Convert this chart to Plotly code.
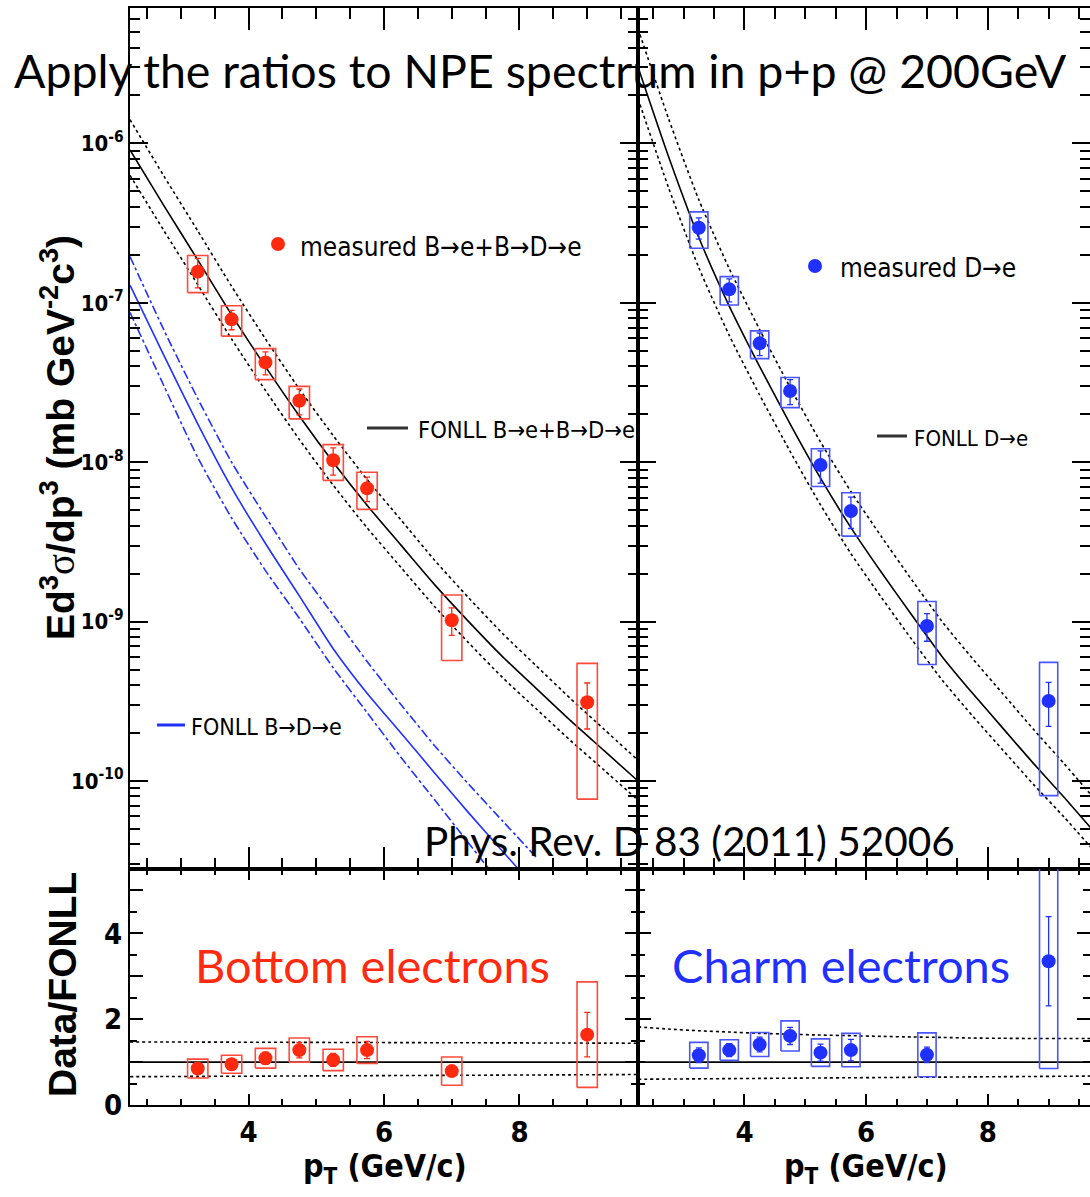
import plotly.graph_objects as go

W, H = 1090, 1197

# ---------------- data ----------------
pt = [3.25, 3.75, 4.25, 4.75, 5.25, 5.75, 7.0, 9.0]

# bottom electrons (B->e + B->D->e), left panel
b_val = [1.57e-7, 7.88e-8, 4.23e-8, 2.43e-8, 1.03e-8, 6.86e-9, 1.02e-9, 3.12e-10]
b_stat = [0.33e-7, 1.1e-8, 0.7e-8, 0.45e-8, 0.2e-8, 1.2e-9, 0.2e-9, 1.0e-10]
b_sys = [0.41e-7, 1.7e-8, 0.93e-8, 0.56e-8, 0.26e-8, 1.8e-9, 0.45e-9, 2.35e-10]

# charm electrons (D->e), right panel
c_val = [2.96e-7, 1.215e-7, 5.57e-8, 2.80e-8, 9.6e-9, 4.94e-9, 9.38e-10, 3.18e-10]
c_stat = [0.45e-7, 0.2e-7, 0.9e-8, 0.5e-8, 2.2e-9, 1.1e-9, 1.85e-10, 0.98e-10]
c_sys = [0.76e-7, 0.245e-7, 1.1e-8, 0.6e-8, 2.55e-9, 1.5e-9, 4.0e-10, 2.37e-10]

# Data / FONLL
b_ratio = [0.85, 0.95, 1.09, 1.28, 1.05, 1.28, 0.79, 1.64]
b_ratio_stat = [0.13, 0.12, 0.14, 0.18, 0.15, 0.20, 0.10, 0.52]
b_ratio_sys = [0.22, 0.21, 0.23, 0.28, 0.25, 0.31, 0.33, 1.23]

c_ratio = [1.16, 1.28, 1.41, 1.61, 1.22, 1.28, 1.17, 3.35]
c_ratio_stat = [0.17, 0.15, 0.17, 0.20, 0.20, 0.25, 0.18, 1.04]
c_ratio_sys = [0.30, 0.24, 0.28, 0.35, 0.32, 0.39, 0.51, 2.50]

# FONLL curves
fonll_pt = [2.25, 2.75, 3.25, 3.75, 4.25, 4.75, 5.25, 5.75, 6.25, 6.75, 7.25, 7.75, 8.25, 8.75, 9.25, 9.75]

fonll_b = [9.12e-7, 4.07e-7, 1.86e-7, 8.41e-8, 3.98e-8, 1.95e-8, 1.00e-8, 5.37e-9,
           3.02e-9, 1.70e-9, 1.00e-9, 6.03e-10, 3.80e-10, 2.40e-10, 1.55e-10, 1.00e-10]
fonll_b_hi = [1.41e-6, 6.25e-7, 2.83e-7, 1.27e-7, 5.94e-8, 2.88e-8, 1.47e-8, 7.80e-9,
              4.35e-9, 2.42e-9, 1.41e-9, 8.43e-10, 5.27e-10, 3.30e-10, 2.11e-10, 1.35e-10]
fonll_b_lo = [6.31e-7, 2.84e-7, 1.30e-7, 5.93e-8, 2.82e-8, 1.39e-8, 7.18e-9, 3.88e-9,
              2.19e-9, 1.24e-9, 7.36e-10, 4.46e-10, 2.83e-10, 1.80e-10, 1.17e-10, 7.59e-11]

fonll_bd_pt = [2.25, 2.75, 3.25, 3.75, 4.25, 4.75, 5.25, 5.75, 6.25, 6.75, 7.25, 7.75, 8.25]
fonll_bd = [1.29e-7, 4.68e-8, 1.74e-8, 6.92e-9, 3.09e-9, 1.45e-9, 6.76e-10, 3.55e-10,
            2.00e-10, 1.12e-10, 6.31e-11, 3.63e-11, 2.09e-11]
fonll_bd_hi = [1.95e-7, 6.76e-8, 2.51e-8, 1.00e-8, 4.57e-9, 2.14e-9, 1.10e-9, 5.62e-10,
               3.02e-10, 1.66e-10, 9.55e-11, 5.62e-11, 3.31e-11]
fonll_bd_lo = [8.71e-8, 3.02e-8, 1.07e-8, 4.47e-9, 2.09e-9, 1.05e-9, 5.13e-10, 2.69e-10,
               1.41e-10, 7.59e-11, 4.07e-11, 2.19e-11, 1.17e-11]

fonll_d = [3.02e-6, 8.32e-7, 2.57e-7, 9.55e-8, 3.98e-8, 1.74e-8, 7.94e-9, 3.89e-9,
           2.04e-9, 1.10e-9, 6.03e-10, 3.55e-10, 2.14e-10, 1.29e-10, 7.94e-11, 4.79e-11]
fonll_d_hi = [5.25e-6, 1.44e-6, 4.43e-7, 1.64e-7, 6.79e-8, 2.95e-8, 1.34e-8, 6.55e-9,
              3.42e-9, 1.83e-9, 1.00e-9, 5.86e-10, 3.52e-10, 2.11e-10, 1.29e-10, 7.76e-11]
fonll_d_lo = [1.91e-6, 5.31e-7, 1.66e-7, 6.25e-8, 2.64e-8, 1.17e-8, 5.40e-9, 2.67e-9,
              1.42e-9, 7.73e-10, 4.30e-10, 2.56e-10, 1.56e-10, 9.53e-11, 5.96e-11, 3.63e-11]

ratio_one = [1.0, 1.0, 1.0, 1.0, 1.0, 1.0, 1.0, 1.0, 1.0, 1.0, 1.0, 1.0, 1.0, 1.0, 1.0, 1.0]
b_ratio_hi = [1.47, 1.468, 1.466, 1.464, 1.462, 1.46, 1.458, 1.456, 1.454, 1.452, 1.45, 1.448, 1.446, 1.444, 1.442, 1.44]
b_ratio_lo = [0.66, 0.663, 0.667, 0.67, 0.673, 0.677, 0.68, 0.683, 0.687, 0.69, 0.693, 0.697, 0.70, 0.703, 0.707, 0.71]
c_ratio_hi = [1.82, 1.77, 1.73, 1.70, 1.67, 1.65, 1.63, 1.615, 1.60, 1.585, 1.575, 1.56, 1.555, 1.55, 1.55, 1.55]
c_ratio_lo = [0.60, 0.605, 0.61, 0.615, 0.62, 0.625, 0.63, 0.635, 0.64, 0.645, 0.65, 0.655, 0.66, 0.665, 0.67, 0.675]

y_decades = [1e-10, 1e-9, 1e-8, 1e-7, 1e-6]
y_decade_text = ["10<sup>-10</sup>", "10<sup>-9</sup>", "10<sup>-8</sup>", "10<sup>-7</sup>", "10<sup>-6</sup>"]
ratio_ticks = [0, 1, 2, 3, 4, 5]
ratio_ticktext = ["0", "", "2", "", "4", ""]
x_ticks = [4, 6, 8]

# ---------------- styles ----------------
RED = "#ff2a10"
RED_BOX = "#ff4a3a"
BLUE = "#2030ff"
BLUE_BOX = "#4a55ff"
BOX_HW = 0.15
NARROW = "Liberation Sans Narrow, Arial Narrow, DejaVu Sans Condensed, Liberation Sans, Arial, sans-serif"
SANS = "Liberation Sans, Arial, Helvetica, sans-serif"
SLIDE = "Lato, Carlito, Calibri, Open Sans, sans-serif"


def px_x(p):
    return p / W


def px_y(p):
    return 1 - p / H


XL = [px_x(130), px_x(638)]
XR = [px_x(638), 1.0]
YT = [px_y(869), px_y(8.3)]
YB = [px_y(1105), px_y(869)]


def box_path(xs, ys, errs):
    bx, by = [], []
    for x, y, e in zip(xs, ys, errs):
        bx += [x - BOX_HW, x + BOX_HW, x + BOX_HW, x - BOX_HW, x - BOX_HW, None]
        by += [y - e, y - e, y + e, y + e, y - e, None]
    return bx, by


fig = go.Figure()


def line(x, y, xa, ya, color, dash, width=1.6):
    fig.add_trace(go.Scatter(x=x, y=y, xaxis=xa, yaxis=ya, mode="lines",
                             line=dict(color=color, dash=dash, width=width, shape="spline", smoothing=0.6),
                             showlegend=False, hoverinfo="skip"))


def data(x, y, stat, sys, xa, ya, color, boxcolor):
    bx, by = box_path(x, y, sys)
    fig.add_trace(go.Scatter(x=bx, y=by, xaxis=xa, yaxis=ya, mode="lines",
                             line=dict(color=boxcolor, width=1.6), showlegend=False, hoverinfo="skip"))
    fig.add_trace(go.Scatter(x=x, y=y, xaxis=xa, yaxis=ya, mode="markers",
                             marker=dict(color=color, size=14, symbol="circle"),
                             error_y=dict(type="data", array=stat, visible=True, color=color,
                                          thickness=1.3, width=3),
                             showlegend=False))


# top-left
line(fonll_pt, fonll_b_hi, "x", "y", "black", "dot")
line(fonll_pt, fonll_b_lo, "x", "y", "black", "dot")
line(fonll_pt, fonll_b, "x", "y", "black", "solid")
line(fonll_bd_pt, fonll_bd_hi, "x", "y", BLUE, "dashdot")
line(fonll_bd_pt, fonll_bd_lo, "x", "y", BLUE, "dashdot")
line(fonll_bd_pt, fonll_bd, "x", "y", BLUE, "solid")
data(pt, b_val, b_stat, b_sys, "x", "y", RED, RED_BOX)

# top-right
line(fonll_pt, fonll_d_hi, "x2", "y2", "black", "dot")
line(fonll_pt, fonll_d_lo, "x2", "y2", "black", "dot")
line(fonll_pt, fonll_d, "x2", "y2", "black", "solid")
data(pt, c_val, c_stat, c_sys, "x2", "y2", BLUE, BLUE_BOX)

# ratio-left
line(fonll_pt, b_ratio_hi, "x3", "y3", "black", "dot")
line(fonll_pt, b_ratio_lo, "x3", "y3", "black", "dot")
line(fonll_pt, ratio_one, "x3", "y3", "black", "solid")
data(pt, b_ratio, b_ratio_stat, b_ratio_sys, "x3", "y3", RED, RED_BOX)

# ratio-right
line(fonll_pt, c_ratio_hi, "x4", "y4", "black", "dot")
line(fonll_pt, c_ratio_lo, "x4", "y4", "black", "dot")
line(fonll_pt, ratio_one, "x4", "y4", "black", "solid")
data(pt, c_ratio, c_ratio_stat, c_ratio_sys, "x4", "y4", BLUE, BLUE_BOX)

# ---------------- axes ----------------
minor_log = [m * d for d in [1e-11, 1e-10, 1e-9, 1e-8, 1e-7, 1e-6, 1e-5] for m in range(2, 10)]
tickfont = dict(family=NARROW, size=22, color="black", weight="bold")
common = dict(showline=True, linecolor="black", linewidth=2, mirror="ticks", ticks="inside",
              tickcolor="black", tickwidth=1.5, showgrid=False, zeroline=False, automargin=False)

xtop = dict(common, range=[2.25, 9.75], tickvals=x_ticks, ticklen=22, showticklabels=False,
            minor=dict(dtick=0.5, tick0=0, ticks="inside", ticklen=11, tickcolor="black", tickwidth=1.5, showgrid=False))
xbot = dict(common, range=[2.25, 9.75], tickvals=x_ticks, ticklen=11, tickfont=dict(tickfont, size=29),
            minor=dict(dtick=0.5, tick0=0, ticks="inside", ticklen=6, tickcolor="black", tickwidth=1.5, showgrid=False))
ylog = dict(common, type="log", range=[-10.552, -5.152], tickvals=y_decades, ticktext=y_decade_text,
            ticklen=18, tickfont=tickfont,
            minor=dict(tickvals=minor_log, ticks="inside", ticklen=10, tickcolor="black", tickwidth=1.5, showgrid=False))
yrat = dict(common, range=[0, 5.5], tickvals=ratio_ticks, ticktext=ratio_ticktext, ticklen=13,
            tickfont=dict(tickfont, size=29),
            minor=dict(dtick=0.5, tick0=0, ticks="inside", ticklen=7, tickcolor="black", tickwidth=1.5, showgrid=False))

fig.update_layout(
    width=W, height=H, margin=dict(l=0, r=0, t=0, b=0, autoexpand=False),
    paper_bgcolor="white", plot_bgcolor="white", showlegend=False,
    xaxis=dict(xtop, domain=XL, anchor="y"),
    yaxis=dict(ylog, domain=YT, anchor="x"),
    xaxis2=dict(xtop, domain=XR, anchor="y2", range=[2.25, 9.68]),
    yaxis2=dict(ylog, domain=YT, anchor="x2", showticklabels=False),
    xaxis3=dict(xbot, domain=XL, anchor="y3"),
    yaxis3=dict(yrat, domain=YB, anchor="x3"),
    xaxis4=dict(xbot, domain=XR, anchor="y4", range=[2.25, 9.68]),
    yaxis4=dict(yrat, domain=YB, anchor="x4", showticklabels=False),
)

# ---------------- texts ----------------
ann = []


def text(t, x, y, size, family, color="black", xanchor="left", weight="normal", angle=0):
    ann.append(dict(text=t, x=px_x(x), y=px_y(y), xref="paper", yref="paper", showarrow=False,
                    xanchor=xanchor, yanchor="middle", textangle=angle,
                    font=dict(size=size, family=family, color=color, weight=weight)))


text("Apply the ratios to NPE spectrum in p+p @ 200GeV", 12, 70, 46.5, SLIDE)
text("Phys. Rev. D 83 (2011) 52006", 422, 840, 40.5, SLIDE)
text("Bottom electrons", 193, 965, 47, SLIDE, color=RED)
text("Charm electrons", 670, 965, 47, SLIDE, color=BLUE)

text("measured B→e+B→D→e", 298, 247, 26, NARROW)
text("FONLL B→e+B→D→e", 416, 430, 23.5, NARROW)
text("FONLL B→D→e", 189, 727, 23, NARROW)
text("measured D→e", 838, 268, 26, NARROW)
text("FONLL D→e", 912, 438, 22, NARROW)

text("Ed<sup>3</sup><span style='font-family:Liberation Serif,Times New Roman,serif;font-weight:normal'>σ</span>/dp<sup>3</sup> (mb GeV<sup>-2</sup>c<sup>3</sup>)",
     57, 438, 39, SANS, xanchor="center", weight="bold", angle=-90)
text("Data/FONLL", 62, 985, 39, SANS, xanchor="center", weight="bold", angle=-90)
text("p<sub>T</sub> (GeV/c)", 385, 1168, 32, NARROW, xanchor="center", weight="bold")
text("p<sub>T</sub> (GeV/c)", 866, 1168, 32, NARROW, xanchor="center", weight="bold")

fig.update_layout(annotations=ann)

# legend swatches
shapes = []
for cx, cy, col in [(278, 244, RED), (815, 266, BLUE)]:
    shapes.append(dict(type="circle", xref="paper", yref="paper", xsizemode="pixel", ysizemode="pixel",
                       xanchor=px_x(cx), yanchor=px_y(cy), x0=-7, x1=7, y0=-7, y1=7,
                       fillcolor=col, line=dict(width=0)))
for x0, x1, yy, col in [(367, 408, 428, "#333333"), (157, 185, 725, BLUE), (877, 907, 436, "#333333")]:
    shapes.append(dict(type="line", xref="paper", yref="paper", x0=px_x(x0), x1=px_x(x1),
                       y0=px_y(yy), y1=px_y(yy), line=dict(color=col, width=3)))
fig.update_layout(shapes=shapes)

fig.write_html("out.html")
